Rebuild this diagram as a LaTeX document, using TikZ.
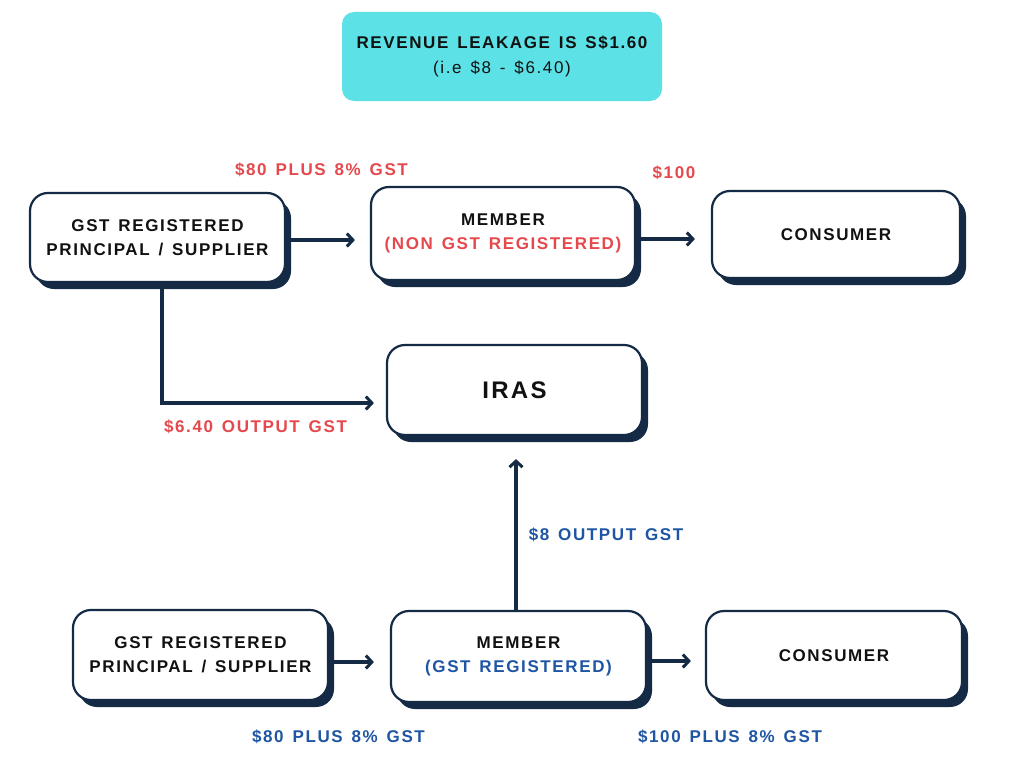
\documentclass[tikz,border=0pt]{standalone}
\usepackage{fontspec}
\setmainfont{Liberation Sans}
\newfontfamily\lblfont{Liberation Sans}[LetterSpace=9.5,WordSpace=1.4]
\usetikzlibrary{arrows.meta,shadows}
\definecolor{navy}{HTML}{142A45}
\definecolor{redlbl}{HTML}{E5484D}
\definecolor{bluelbl}{HTML}{1F56A3}
\definecolor{cyanbox}{HTML}{5CE1E6}
\definecolor{ink}{HTML}{111111}
\tikzset{
  flowbox/.style={draw=navy, line width=2.2pt, fill=white, rounded corners=18pt, text=ink,
    inner sep=0pt, align=center, font=\lblfont\bfseries\fontsize{17}{24}\selectfont,
    drop shadow={shadow xshift=6pt, shadow yshift=-7pt, fill=navy, opacity=1}},
  conn/.style={draw=navy, line width=3.2pt, -{Straight Barb[length=6pt,width=13pt,line width=3pt]}},
  redtxt/.style={text=redlbl, font=\lblfont\bfseries\fontsize{17}{24}\selectfont, inner sep=0pt},
  bluetxt/.style={text=bluelbl, font=\lblfont\bfseries\fontsize{17}{24}\selectfont, inner sep=0pt},
}
\begin{document}
\begin{tikzpicture}[x=1pt,y=-1pt]
\useasboundingbox (0,0) rectangle (1016,760);
\fill[white] (0,0) rectangle (1016,760);
% title box
\node[fill=cyanbox, rounded corners=12pt, minimum width=320pt, minimum height=89pt, inner sep=0pt, text=ink,
  align=center, font=\lblfont\fontsize{17}{25}\selectfont] (title) at (502,56.5)
  {\bfseries REVENUE LEAKAGE IS S\$1.60\\(i.e \$8 - \$6.40)};
% top row
\node[flowbox, minimum width=255pt, minimum height=89pt] (A1) at (157.5,237.5) {GST REGISTERED\\PRINCIPAL / SUPPLIER};
\node[flowbox, minimum width=264pt, minimum height=93pt] (M1) at (503,233.5) {MEMBER\\\textcolor{redlbl}{(NON GST REGISTERED)}};
\node[flowbox, minimum width=248pt, minimum height=87pt] (C1) at (836,234.5) {CONSUMER};
% IRAS
\node[flowbox, minimum width=255pt, minimum height=90pt, font=\lblfont\bfseries\fontsize{24}{28}\selectfont] (IRAS) at (514.5,390) {IRAS};
% bottom row
\node[flowbox, minimum width=255pt, minimum height=90pt] (A2) at (200.5,655) {GST REGISTERED\\PRINCIPAL / SUPPLIER};
\node[flowbox, minimum width=255pt, minimum height=91pt] (M2) at (518.5,656.5) {MEMBER\\\textcolor{bluelbl}{(GST REGISTERED)}};
\node[flowbox, minimum width=256pt, minimum height=89pt] (C2) at (834,655.5) {CONSUMER};
% connectors
\draw[conn, shorten >=15pt] ([yshift=-2.5pt]A1.east) -- ([yshift=-2.5pt]A1.east -| M1.west);
\draw[conn, shorten >=16pt] ([yshift=-5.5pt]M1.east) -- ([yshift=-5.5pt]M1.east -| C1.west);
\draw[conn, shorten >=12pt] ([xshift=4.5pt]A1.south) |- ([yshift=-13pt]IRAS.west);
\draw[conn, shorten >=23pt] ([xshift=-2.5pt]M2.north) -- ([xshift=-2.5pt]M2.north |- IRAS.south);
\draw[conn, shorten >=16pt] ([yshift=-7pt]A2.east) -- ([yshift=-7pt]A2.east -| M2.west);
\draw[conn, shorten >=14pt] ([yshift=-4.5pt]M2.east) -- ([yshift=-4.5pt]M2.east -| C2.west);
% labels
\node[redtxt] (l1) at (321.5,170) {\$80 PLUS 8\% GST};
\node[redtxt] (l2) at (674,173) {\$100};
\node[redtxt] (l3) at (255.5,427) {\$6.40 OUTPUT GST};
\node[bluetxt] (l4) at (606,535) {\$8 OUTPUT GST};
\node[bluetxt] (l5) at (338.5,737) {\$80 PLUS 8\% GST};
\node[bluetxt] (l6) at (730,737) {\$100 PLUS 8\% GST};
\end{tikzpicture}
\end{document}
